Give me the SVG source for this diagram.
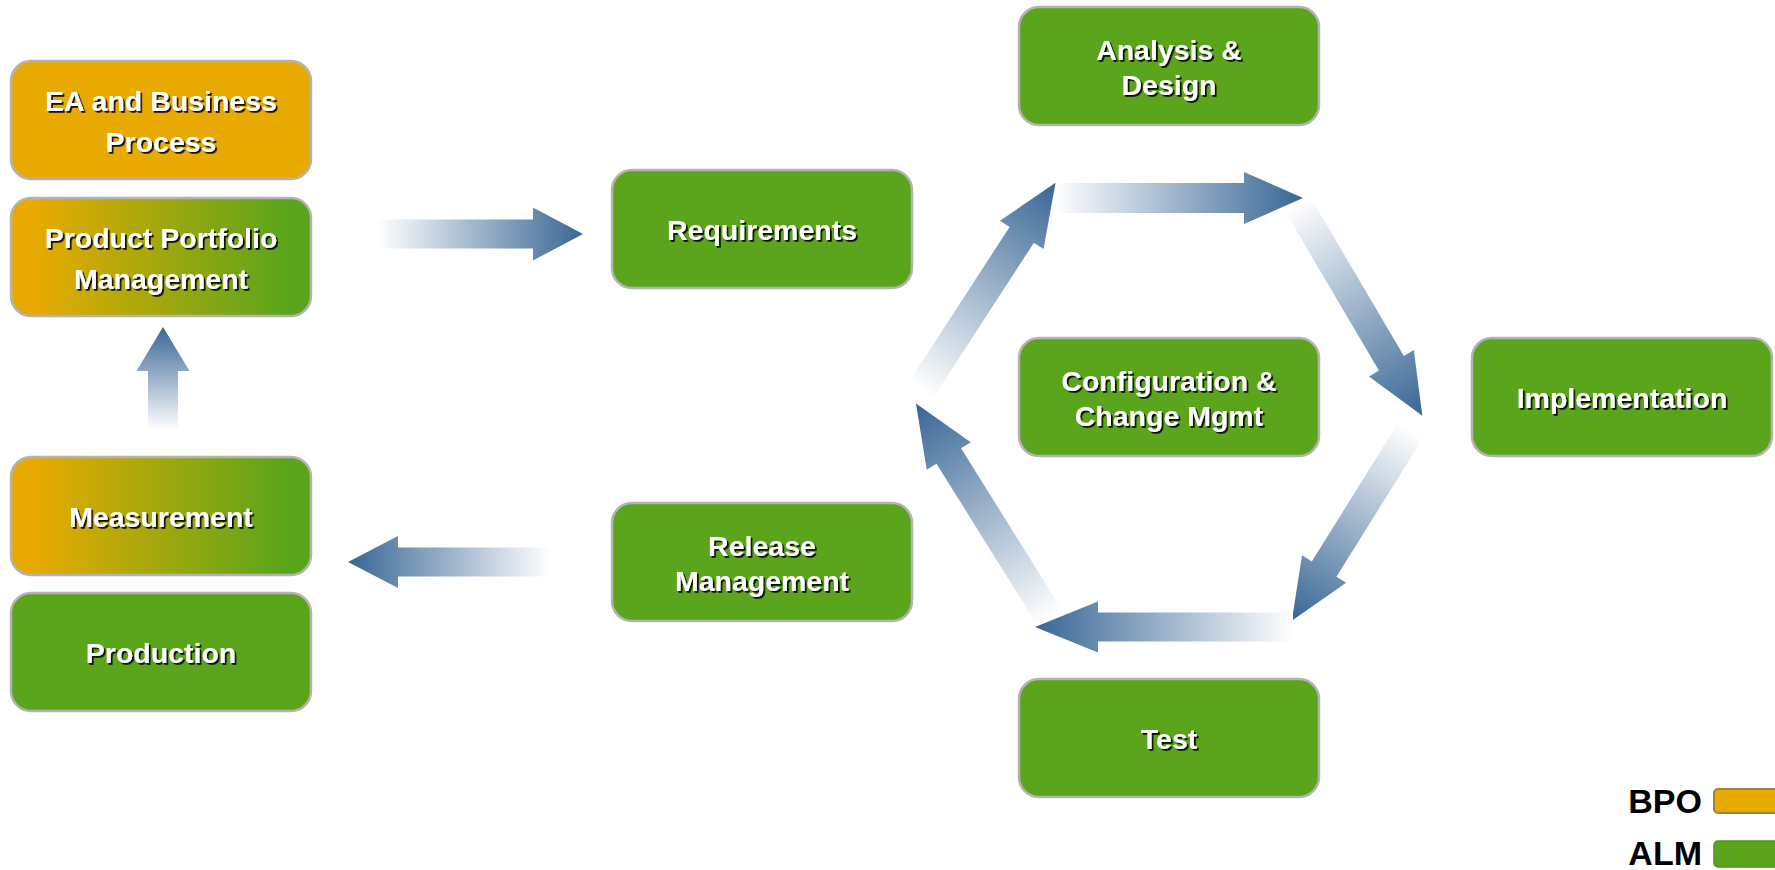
<svg xmlns="http://www.w3.org/2000/svg" width="1775" height="870" viewBox="0 0 1775 870">
<defs>
<style>
.box{stroke:#b3b3b3;stroke-width:2.5}
.g{fill:#5aa51b}
.o{fill:#e8aa00}
.m{fill:url(#mix)}
.lbl{font-family:"Liberation Sans",Arial,sans-serif;font-weight:bold;font-size:28.5px;fill:#ffffff;text-anchor:middle;filter:url(#sh)}
.leg{font-family:"Liberation Sans",Arial,sans-serif;font-weight:bold;font-size:34px;fill:#000000;text-anchor:end}
.arr{fill:url(#ag)}
</style>
<linearGradient id="mix" x1="0" y1="0" x2="1" y2="0">
<stop offset="0.08" stop-color="#e8aa00"/>
<stop offset="0.92" stop-color="#5aa51b"/>
</linearGradient>
<linearGradient id="ag" x1="0" y1="0" x2="1" y2="0">
<stop offset="0" stop-color="#ffffff"/>
<stop offset="1" stop-color="#386695"/>
</linearGradient>
<filter id="sh" x="-10%" y="-30%" width="120%" height="160%">
<feDropShadow dx="1.8" dy="1.8" stdDeviation="0.4" flood-color="#000000" flood-opacity="0.9"/>
</filter>
</defs>

<g id="connectors">
<path class="arr" transform="translate(377,234)" d="M0,-14.5 H156 V-26.5 L206,0 L156,26.5 V14.5 H0 Z"/>
<path class="arr" transform="translate(550,562) rotate(180)" d="M0,-14.5 H152 V-26 L202,0 L152,26 V14.5 H0 Z"/>
<path class="arr" transform="translate(163,430) rotate(-90)" d="M0,-15 H59 V-26.5 L103,0 L59,26.5 V15 H0 Z"/>
<path class="arr" transform="translate(1055,198)" d="M0,-15 H189 V-26 L248,0 L189,26 V15 H0 Z"/>
<path class="arr" transform="translate(1297,203) rotate(59.5)" d="M0,-14.5 H186 V-26 L247,0 L186,26 V14.5 H0 Z"/>
<path class="arr" transform="translate(1411,430) rotate(122)" d="M0,-14.5 H164 V-26 L225,0 L164,26 V14.5 H0 Z"/>
<path class="arr" transform="translate(1293,627) rotate(180)" d="M0,-14.5 H195 V-25.5 L258,0 L195,25.5 V14.5 H0 Z"/>
<path class="arr" transform="translate(1050,618) rotate(238)" d="M0,-14.5 H191 V-26 L253,0 L191,26 V14.5 H0 Z"/>
<path class="arr" transform="translate(921,390) rotate(-57)" d="M0,-14.5 H185 V-26 L247,0 L185,26 V14.5 H0 Z"/>
</g>

<g id="ea">
<rect class="box o" x="11" y="61" width="300" height="118" rx="20"/>
<text class="lbl" x="161" y="111">EA and Business</text>
<text class="lbl" x="161" y="152">Process</text>
</g>
<g id="ppm">
<rect class="box m" x="11" y="198" width="300" height="118" rx="20"/>
<text class="lbl" x="161" y="248">Product Portfolio</text>
<text class="lbl" x="161" y="289">Management</text>
</g>
<g id="measurement">
<rect class="box m" x="11" y="457" width="300" height="118" rx="20"/>
<text class="lbl" x="161" y="527">Measurement</text>
</g>
<g id="production">
<rect class="box g" x="11" y="593" width="300" height="118" rx="20"/>
<text class="lbl" x="161" y="663">Production</text>
</g>
<g id="requirements">
<rect class="box g" x="612" y="170" width="300" height="118" rx="20"/>
<text class="lbl" x="762" y="240">Requirements</text>
</g>
<g id="release">
<rect class="box g" x="612" y="503" width="300" height="118" rx="20"/>
<text class="lbl" x="762" y="556">Release</text>
<text class="lbl" x="762" y="591">Management</text>
</g>
<g id="analysis">
<rect class="box g" x="1019" y="7" width="300" height="118" rx="20"/>
<text class="lbl" x="1169" y="60">Analysis &amp;</text>
<text class="lbl" x="1169" y="95">Design</text>
</g>
<g id="config">
<rect class="box g" x="1019" y="338" width="300" height="118" rx="20"/>
<text class="lbl" x="1169" y="391">Configuration &amp;</text>
<text class="lbl" x="1169" y="426">Change Mgmt</text>
</g>
<g id="test">
<rect class="box g" x="1019" y="679" width="300" height="118" rx="20"/>
<text class="lbl" x="1169" y="749">Test</text>
</g>
<g id="implementation">
<rect class="box g" x="1472" y="338" width="300" height="118" rx="20"/>
<text class="lbl" x="1622" y="408">Implementation</text>
</g>

<g id="legend">
<text class="leg" x="1702" y="813">BPO</text>
<rect x="1714" y="789" width="75" height="24" rx="4" fill="#e8aa00" stroke="#a08530" stroke-width="2"/>
<text class="leg" x="1702" y="865">ALM</text>
<rect x="1714" y="841" width="75" height="26" rx="4" fill="#5aa51b" stroke="#4e9418" stroke-width="1.5"/>
</g>
</svg>
